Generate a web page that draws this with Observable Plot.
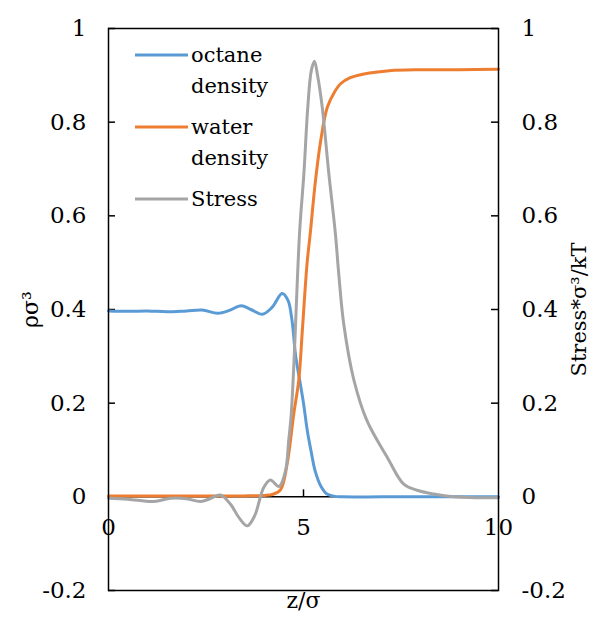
<!DOCTYPE html>
<html><head><meta charset="utf-8">
<script src="https://cdn.jsdelivr.net/npm/d3@7"></script>
<script src="https://cdn.jsdelivr.net/npm/@observablehq/plot@0.6"></script>
<style>
body{margin:0;background:#fff}
#chart svg, #chart svg text, #chart svg tspan { font-family: "DejaVu Serif" !important; font-variant: normal !important; }
</style>
</head><body><div id="chart"></div>
<script>
// octane density
const octaneZ   = [0,0.5,1,1.5,2,2.4,2.8,3.1,3.4,3.65,3.95,4.2,4.45,4.6,4.7,4.8,4.9,5.0,5.1,5.2,5.3,5.45,5.6,5.8,6,7,8,9,10];
const octaneRho = [0.397,0.396,0.397,0.395,0.397,0.399,0.392,0.398,0.408,0.400,0.390,0.405,0.434,0.42,0.38,0.30,0.25,0.20,0.14,0.095,0.055,0.022,0.006,0.001,0,0,0,0,0];
// water density
const waterZ   = [0,1,2,3,3.5,4.0,4.2,4.41,4.58,4.75,4.88,4.97,5.09,5.18,5.3,5.44,5.61,5.8,5.95,6.2,6.55,7.2,8,9,10];
const waterRho = [0.002,0.002,0.002,0.002,0.002,0.003,0.005,0.015,0.07,0.177,0.25,0.355,0.497,0.568,0.67,0.76,0.832,0.865,0.882,0.895,0.903,0.91,0.912,0.912,0.913];
// stress
const stressZ   = [0,0.5,1.16,1.6,2.0,2.36,2.6,2.87,3.13,3.35,3.56,3.75,3.98,4.15,4.37,4.54,4.62,4.68,4.74,4.79,4.9,5.01,5.11,5.2,5.28,5.36,5.48,5.65,5.82,5.9,6.03,6.29,6.63,7.15,7.57,7.91,8.34,8.85,9.5,10];
const stressVal = [-0.003,-0.005,-0.01,-0.003,-0.004,-0.01,-0.004,0.004,-0.016,-0.045,-0.062,-0.04,0.02,0.036,0.022,0.056,0.12,0.17,0.26,0.355,0.565,0.69,0.832,0.91,0.93,0.9,0.832,0.69,0.56,0.48,0.37,0.25,0.162,0.084,0.027,0.014,0.006,0.0,-0.002,-0.002];

const seriesNames = ["octane\ndensity", "water\ndensity", "Stress"];
const seriesColors = ["#5B9BD5", "#ED7D31", "#A5A5A5"];
const yTicks = [-0.2, 0, 0.2, 0.4, 0.6, 0.8, 1];
const xTicks = [0, 5, 10];
const xTitle = "z/σ";
const yTitleLeft = "ρσ³";
const yTitleRight = "Stress*σ³/kT";

const toRows = (zs, vs, s) => zs.map((z, i) => ({z, v: vs[i], s}));
const rows = [
  ...toRows(octaneZ, octaneRho, 0),
  ...toRows(waterZ, waterRho, 1),
  ...toRows(stressZ, stressVal, 2)
];

const FONT = "DejaVu Serif";
const plotW = 607 - 108 - 109;
const chart = Plot.plot({
  width: 607, height: 629,
  marginLeft: 108, marginRight: 109, marginTop: 28, marginBottom: 39,
  style: {fontFamily: FONT, fontSize: "23px", background: "#fff", color: "#000"},
  x: {domain: [0, 10], axis: null},
  y: {domain: [-0.2, 1], axis: null},
  marks: [
    Plot.ruleY([0], {stroke: "#000", strokeWidth: 1.5}),
    Plot.ruleX([5], {y1: 0, y2: 0, insetTop: -7, stroke: "#000", strokeWidth: 1.5}),
    Plot.tickY(yTicks, {y: d => d, insetRight: plotW - 7, stroke: "#000", strokeWidth: 1.5}),
    Plot.tickY(yTicks, {y: d => d, insetLeft: plotW - 7, stroke: "#000", strokeWidth: 1.5}),
    Plot.axisY({anchor: "left", ticks: yTicks, tickSize: 0, tickPadding: 22, tickFormat: d => String(d), label: null, fontSize: 23}),
    Plot.axisY({anchor: "right", ticks: yTicks, tickSize: 0, tickPadding: 23, tickFormat: d => String(d), label: null, fontSize: 23}),
    Plot.text(xTicks, {x: d => d, y: 0, text: d => String(d), dy: 31, fontSize: 23}),
    Plot.text([xTitle], {frameAnchor: "bottom", dy: 17, fontSize: 22, textAnchor: "middle"}),
    Plot.text([yTitleLeft], {frameAnchor: "left", dx: -78, rotate: -90, fontSize: 22, textAnchor: "middle"}),
    Plot.text([yTitleRight], {frameAnchor: "right", dx: 81, rotate: -90, fontSize: 21, textAnchor: "middle"}),
    ...[0, 1, 2].map(k => Plot.line(rows.filter(r => r.s === k), {x: "z", y: "v", stroke: seriesColors[k], strokeWidth: 3, curve: "catmull-rom"})),
    Plot.frame({stroke: "#000", strokeWidth: 1.5})
  ]
});
document.getElementById("chart").appendChild(chart);

// legend inside the plot area
const svg = d3.select(chart);
const lg = svg.append("g").attr("font-size", 21).attr("text-anchor", "start").style("font-family", FONT);
const legendY = [55, 127, 199];
seriesNames.forEach((name, k) => {
  lg.append("line").attr("x1", 135).attr("x2", 188).attr("y1", legendY[k]).attr("y2", legendY[k])
    .attr("stroke", seriesColors[k]).attr("stroke-width", 3);
  const t = lg.append("text").attr("x", 191).attr("y", legendY[k]).attr("fill", "#000");
  name.split("\n").forEach((line, j) => {
    t.append("tspan").attr("x", 191).attr("dy", j === 0 ? "0.32em" : 31).text(line);
  });
});
</script>
</body></html>
